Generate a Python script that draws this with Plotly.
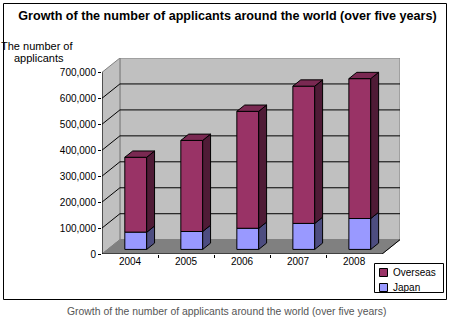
import plotly.graph_objects as go

# ---- data ----
years = ["2004", "2005", "2006", "2007", "2008"]
japan = [66000, 69000, 81000, 100000, 119000]
overseas = [289000, 351000, 451000, 529000, 539000]
y_ticks = [0, 100000, 200000, 300000, 400000, 500000, 600000, 700000]
series_names = ["Overseas", "Japan"]

# ---- pseudo-3D geometry (in axis units) ----
n = len(years)
YMAX = y_ticks[-1]
DX = 0.32        # depth offset along x (category units)
DY = 55200       # depth offset along y (value units)
F0, F1 = 0.32, 0.76  # bar depth start / end (fraction of full depth)
BW = 0.39        # bar width (category units)

ox, oy = F0 * DX, F0 * DY
ddx, ddy = (F1 - F0) * DX, (F1 - F0) * DY
centers = [i + 0.5 + ox for i in range(n)]

C_OV, C_OV_SIDE, C_OV_TOP = "#993366", "#4F1B36", "#7A2952"
C_JP, C_JP_SIDE = "#9999FF", "#4D4D80"

fig = go.Figure()

# front faces
fig.add_bar(x=centers, y=overseas, base=[oy + j for j in japan], width=BW,
            name=series_names[0], marker=dict(color=C_OV, line=dict(color="black", width=1)),
            hoverinfo="skip", showlegend=False)
fig.add_bar(x=centers, y=japan, base=[oy] * n, width=BW,
            name=series_names[1], marker=dict(color=C_JP, line=dict(color="black", width=1)),
            hoverinfo="skip", showlegend=False)


def side_faces(bottoms, tops):
    xs, ys = [], []
    for c, b, t in zip(centers, bottoms, tops):
        xr = c + BW / 2
        xs += [xr, xr + ddx, xr + ddx, xr, xr, None]
        ys += [b, b + ddy, t + ddy, t, b, None]
    return xs, ys


def top_faces(tops):
    xs, ys = [], []
    for c, t in zip(centers, tops):
        xl, xr = c - BW / 2, c + BW / 2
        xs += [xl, xr, xr + ddx, xl + ddx, xl, None]
        ys += [t, t, t + ddy, t + ddy, t, None]
    return xs, ys


jp_top = [oy + j for j in japan]
tot_top = [oy + j + o for j, o in zip(japan, overseas)]

for (xs, ys), col in [
    (side_faces([oy] * n, jp_top), C_JP_SIDE),
    (side_faces(jp_top, tot_top), C_OV_SIDE),
    (top_faces(tot_top), C_OV_TOP),
]:
    fig.add_scatter(x=xs, y=ys, mode="lines", fill="toself", fillcolor=col,
                    line=dict(color="black", width=1), showlegend=False,
                    hoverinfo="skip")

# ---- walls, floor, gridlines ----
shapes = []
shapes.append(dict(type="rect", xref="x", yref="y", x0=DX, x1=n + DX, y0=DY, y1=YMAX + DY,
                   fillcolor="#C0C0C0", line=dict(color="#808080", width=1), layer="below"))
shapes.append(dict(type="path", xref="x", yref="y",
                   path=f"M0,0 L{DX},{DY} L{DX},{YMAX + DY} L0,{YMAX} Z",
                   fillcolor="#C0C0C0", line=dict(color="#808080", width=1), layer="below"))
shapes.append(dict(type="path", xref="x", yref="y",
                   path=f"M0,0 L{n},0 L{n + DX},{DY} L{DX},{DY} Z",
                   fillcolor="#808080", line=dict(color="#808080", width=1), layer="below"))
for v in y_ticks[1:-1]:
    shapes.append(dict(type="line", xref="x", yref="y", x0=DX, x1=n + DX, y0=v + DY, y1=v + DY,
                       line=dict(color="black", width=1), layer="below"))
    shapes.append(dict(type="line", xref="x", yref="y", x0=0, x1=DX, y0=v, y1=v + DY,
                       line=dict(color="black", width=1), layer="below"))
# front axis lines and floor right edge
shapes.append(dict(type="line", xref="x", yref="y", x0=0, x1=0, y0=0, y1=YMAX,
                   line=dict(color="black", width=1), layer="below"))
shapes.append(dict(type="line", xref="x", yref="y", x0=0, x1=n, y0=0, y1=0,
                   line=dict(color="black", width=1), layer="below"))
shapes.append(dict(type="line", xref="x", yref="y", x0=n, x1=n + DX, y0=0, y1=DY,
                   line=dict(color="black", width=1), layer="below"))

# outer frame (pixel positions converted to paper coords)
L, R, T, B, W, H = 102, 55, 58, 68, 455, 322
pw, ph = W - L - R, H - T - B


def px_x(px):
    return (px - L) / pw


def px_y(py):
    return (H - B - py) / ph


shapes.append(dict(type="rect", xref="paper", yref="paper",
                   x0=px_x(3.5), x1=px_x(446.5), y0=px_y(299.5), y1=px_y(3.5),
                   line=dict(color="black", width=1), fillcolor="rgba(0,0,0,0)", layer="above"))

FONT = "Arial, Liberation Sans, sans-serif"

# legend box (drawn to match the reference's compact legend)
shapes.append(dict(type="rect", xref="paper", yref="paper",
                   x0=px_x(374.5), x1=px_x(443.5), y0=px_y(292.5), y1=px_y(263.5),
                   line=dict(color="black", width=1), fillcolor="white", layer="above"))
legend_items = [(series_names[0], C_OV, 272.5), (series_names[1], C_JP, 287.5)]
annotations = []
for name, col, yc in legend_items:
    shapes.append(dict(type="rect", xref="paper", yref="paper",
                       x0=px_x(379.5), x1=px_x(387.5), y0=px_y(yc + 4), y1=px_y(yc - 4),
                       line=dict(color="black", width=1), fillcolor=col, layer="above"))
    annotations.append(dict(text=name, xref="paper", yref="paper", x=px_x(391), y=px_y(yc),
                            showarrow=False, xanchor="left", yanchor="middle",
                            font=dict(family=FONT, size=10, color="black")))

annotations += [
    dict(text="The number of", xref="paper", yref="paper", x=px_x(37), y=px_y(46),
         showarrow=False, font=dict(family=FONT, size=11, color="black"),
         xanchor="center", yanchor="middle"),
    dict(text="applicants", xref="paper", yref="paper", x=px_x(38.5), y=px_y(58),
         showarrow=False, font=dict(family=FONT, size=11, color="black"),
         xanchor="center", yanchor="middle"),
    dict(text="Growth of the number of applicants around the world (over five years)",
         xref="paper", yref="paper", x=px_x(226), y=px_y(311),
         showarrow=False, font=dict(family=FONT, size=10.4, color="#555555"),
         xanchor="center", yanchor="middle"),
]

fig.update_layout(
    width=W, height=H,
    margin=dict(l=L, r=R, t=T, b=B, autoexpand=False),
    paper_bgcolor="white", plot_bgcolor="white",
    barmode="overlay",
    title=dict(text="<b>Growth of the number of applicants around the world (over five years)</b>",
               x=0.5, xref="container", xanchor="center",
               y=1 - 16 / H, yref="container", yanchor="middle",
               font=dict(family=FONT, size=12.6, color="black")),
    xaxis=dict(range=[0, n + DX], showgrid=False, zeroline=False, showline=False,
               tickmode="array", tickvals=[i + 0.5 for i in range(n)], ticktext=years,
               ticks="", tickfont=dict(family=FONT, size=10, color="black"),
               minor=dict(tickmode="array", tickvals=list(range(1, n)), ticks="outside",
                          ticklen=3, tickcolor="black", showgrid=False),
               fixedrange=True),
    yaxis=dict(range=[0, YMAX + DY], showgrid=False, zeroline=False, showline=False,
               tickmode="array", tickvals=y_ticks, tickformat=",d",
               ticks="outside", ticklen=3, tickcolor="black",
               tickfont=dict(family=FONT, size=10, color="black"), fixedrange=True),
    shapes=shapes,
    annotations=annotations,
    showlegend=False,
)

fig.write_html("out.html")
